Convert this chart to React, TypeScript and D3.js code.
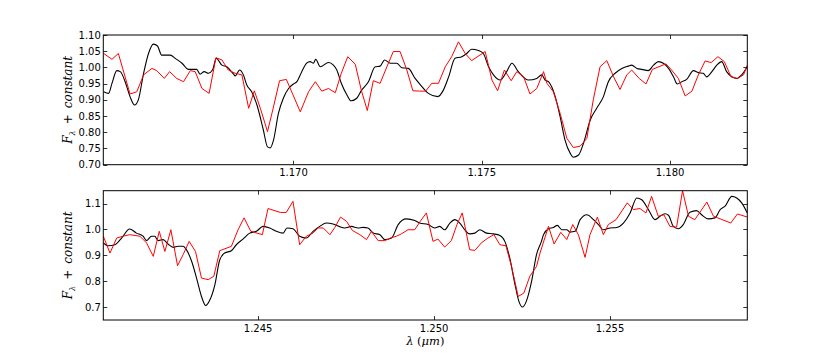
import { useEffect, useRef } from 'react';
import * as d3 from 'd3';

// top panel: 1.165 - 1.182 um
const topModel: [number, number][] = [
  [1.16496, 0.925], [1.16509, 0.92], [1.16518, 0.951], [1.16531, 0.99], [1.1654, 0.987],
  [1.16553, 0.956], [1.16566, 0.91], [1.16578, 0.884], [1.16588, 0.9], [1.16602, 0.982],
  [1.16615, 1.043], [1.16628, 1.072], [1.16639, 1.066], [1.1665, 1.038], [1.16673, 1.038],
  [1.16686, 1.028], [1.16704, 1.013], [1.16721, 0.994], [1.16743, 0.994], [1.16752, 0.979],
  [1.16763, 0.987], [1.16774, 0.982], [1.16785, 0.992], [1.16795, 1.028], [1.1681, 1.007],
  [1.16823, 1.002], [1.16841, 0.979], [1.16845, 0.974], [1.16857, 0.992], [1.16867, 0.977],
  [1.16876, 0.946], [1.16889, 0.925], [1.16903, 0.884], [1.1692, 0.807], [1.16931, 0.755],
  [1.16938, 0.752], [1.16947, 0.776], [1.1696, 0.858], [1.16973, 0.905], [1.16987, 0.935],
  [1.17, 0.949], [1.17009, 0.956], [1.17022, 0.987], [1.17035, 1.013], [1.17044, 1.018],
  [1.17053, 1.013], [1.17059, 1.025], [1.17071, 1.002], [1.17093, 1.015], [1.17106, 1.007],
  [1.17115, 0.992], [1.17127, 0.951], [1.17142, 0.915], [1.17153, 0.897], [1.17168, 0.905],
  [1.17181, 0.93], [1.17199, 0.956], [1.17217, 1.002], [1.1723, 1.004], [1.17242, 1.023],
  [1.17257, 1.013], [1.17274, 1.013], [1.17288, 0.999], [1.17305, 0.997], [1.17323, 0.966],
  [1.17341, 0.941], [1.17358, 0.92], [1.17383, 0.91], [1.17398, 0.93], [1.17412, 0.971],
  [1.17429, 1.028], [1.17447, 1.033], [1.1746, 1.043], [1.17473, 1.056], [1.17491, 1.052],
  [1.17504, 1.043], [1.17518, 1.002], [1.17531, 0.977], [1.17549, 0.961], [1.17566, 0.987],
  [1.1758, 1.013], [1.17597, 0.987], [1.17624, 0.961], [1.17646, 0.966], [1.17659, 0.977],
  [1.17668, 0.961], [1.17677, 0.956], [1.17695, 0.91], [1.17708, 0.848], [1.17721, 0.776],
  [1.17735, 0.735], [1.17743, 0.723], [1.17757, 0.73], [1.1777, 0.766], [1.17788, 0.838],
  [1.17805, 0.874], [1.17823, 0.91], [1.17836, 0.956], [1.17854, 0.982], [1.17872, 0.997],
  [1.17889, 1.004], [1.17898, 1.007], [1.17912, 0.997], [1.17925, 0.994], [1.17942, 0.99],
  [1.17956, 1.007], [1.17969, 1.018], [1.17982, 1.013], [1.17996, 0.997], [1.18009, 0.971],
  [1.18019, 0.949], [1.18031, 0.956], [1.18044, 0.963], [1.18062, 0.99], [1.18075, 0.984],
  [1.18088, 0.982], [1.18097, 0.971], [1.18111, 0.987], [1.18124, 1.007], [1.18137, 1.018],
  [1.1815, 0.987], [1.18164, 0.971], [1.18177, 0.966], [1.1819, 0.977], [1.18205, 1.002],
];

const topObs: [number, number][] = [
  [1.16496, 1.043], [1.16518, 1.025], [1.16535, 1.043], [1.16566, 0.918], [1.16584, 0.925],
  [1.16602, 0.977], [1.16624, 0.997], [1.16637, 0.99], [1.16657, 0.966], [1.16671, 0.987],
  [1.1669, 0.966], [1.16708, 0.956], [1.16726, 0.99], [1.16739, 0.987], [1.16757, 0.935],
  [1.16776, 0.92], [1.16794, 1.03], [1.1681, 1.023], [1.16827, 0.992], [1.16845, 0.982],
  [1.16863, 0.977], [1.16881, 0.874], [1.16896, 0.928], [1.16912, 0.874], [1.16931, 0.802],
  [1.16945, 0.869], [1.16963, 0.959], [1.16981, 0.963], [1.17, 0.912], [1.17018, 0.863],
  [1.1704, 0.925], [1.17058, 0.956], [1.17075, 0.927], [1.17093, 0.935], [1.17111, 0.922],
  [1.17127, 0.982], [1.17144, 1.033], [1.17164, 1.01], [1.1718, 0.93], [1.17196, 0.867],
  [1.17212, 0.959], [1.1723, 0.951], [1.17248, 1.002], [1.17265, 1.049], [1.17283, 1.049],
  [1.17301, 0.992], [1.17317, 0.928], [1.17335, 0.927], [1.17351, 0.927], [1.17367, 0.951],
  [1.17385, 0.951], [1.17403, 1.002], [1.1742, 1.033], [1.17438, 1.079], [1.17456, 1.043],
  [1.17473, 1.021], [1.17509, 1.049], [1.17527, 0.961], [1.17542, 0.928], [1.1756, 0.992],
  [1.17578, 0.959], [1.17593, 0.987], [1.17611, 0.971], [1.17628, 0.918], [1.17646, 0.935],
  [1.17664, 0.987], [1.17673, 0.951], [1.1769, 0.925], [1.17708, 0.858], [1.17726, 0.781],
  [1.17743, 0.753], [1.17761, 0.757], [1.17779, 0.781], [1.17796, 0.9], [1.17814, 1.002],
  [1.17832, 1.021], [1.1785, 0.971], [1.17867, 0.932], [1.17885, 0.977], [1.17898, 0.992],
  [1.17918, 0.966], [1.17936, 0.949], [1.17953, 0.994], [1.17989, 1.011], [1.18004, 0.992],
  [1.18022, 0.966], [1.1804, 0.912], [1.18058, 0.927], [1.18075, 0.977], [1.18093, 1.02],
  [1.18109, 1.015], [1.18127, 1.033], [1.18144, 1.018], [1.18162, 0.971], [1.18179, 0.966],
  [1.18195, 0.977], [1.18205, 1.007],
];

// bottom panel: 1.2406 - 1.2589 um
const bottomModel: [number, number][] = [
  [1.2406, 0.948], [1.24074, 0.937], [1.24093, 0.941], [1.24112, 0.967], [1.24135, 1.002],
  [1.24154, 0.986], [1.24173, 0.974], [1.24183, 0.957], [1.24197, 0.974], [1.24206, 0.974],
  [1.24216, 0.957], [1.2423, 0.961], [1.24244, 0.944], [1.24259, 0.931], [1.24273, 0.935],
  [1.24287, 0.935], [1.24296, 0.922], [1.24311, 0.877], [1.24325, 0.812], [1.24339, 0.741],
  [1.24351, 0.706], [1.24363, 0.728], [1.24377, 0.786], [1.24391, 0.883], [1.24405, 0.909],
  [1.24424, 0.918], [1.24438, 0.941], [1.24457, 0.963], [1.24476, 0.986], [1.24495, 0.993],
  [1.24514, 1.012], [1.24533, 1.006], [1.24552, 0.993], [1.24571, 0.986], [1.24582, 1.006],
  [1.24599, 1.003], [1.24618, 0.974], [1.24637, 0.967], [1.24656, 0.993], [1.24675, 1.012],
  [1.24694, 1.025], [1.24713, 1.021], [1.2473, 1.012], [1.24746, 1.006], [1.24765, 1.012],
  [1.24784, 1.006], [1.24798, 1.008], [1.24812, 1.006], [1.24827, 0.986], [1.24846, 0.98],
  [1.2486, 0.961], [1.24879, 0.967], [1.24898, 1.019], [1.24921, 1.041], [1.24945, 1.035],
  [1.24959, 1.025], [1.24983, 1.019], [1.25002, 1.006], [1.25016, 1.012], [1.2503, 0.999],
  [1.25045, 1.025], [1.25059, 1.038], [1.25073, 1.025], [1.25087, 0.999], [1.25101, 0.983],
  [1.25116, 0.986], [1.2513, 0.999], [1.25149, 0.986], [1.25168, 0.983], [1.25187, 0.977],
  [1.25201, 0.954], [1.25215, 0.89], [1.25229, 0.793], [1.25241, 0.722], [1.25251, 0.7],
  [1.25262, 0.722], [1.25277, 0.799], [1.25291, 0.903], [1.25305, 0.954], [1.25311, 0.98],
  [1.25325, 1.003], [1.25339, 1.008], [1.2535, 1.016], [1.25363, 0.999], [1.25377, 0.999],
  [1.25386, 0.99], [1.25401, 0.993], [1.25415, 1.038], [1.25434, 1.057], [1.25453, 1.038],
  [1.25467, 1.019], [1.25481, 0.999], [1.255, 1.006], [1.25519, 1.008], [1.25538, 1.025],
  [1.25557, 1.064], [1.25576, 1.122], [1.2559, 1.115], [1.25609, 1.077], [1.25628, 1.038],
  [1.25642, 1.051], [1.25656, 1.061], [1.25666, 1.055], [1.2568, 1.012], [1.25694, 1.003],
  [1.25708, 1.019], [1.25727, 1.067], [1.25746, 1.073], [1.2576, 1.057], [1.25779, 1.041],
  [1.25798, 1.045], [1.25813, 1.077], [1.25827, 1.09], [1.25846, 1.128], [1.2586, 1.122],
  [1.25874, 1.103], [1.2589, 1.064],
];

const bottomObs: [number, number][] = [
  [1.2406, 0.974], [1.24079, 0.909], [1.24098, 0.967], [1.24116, 0.974], [1.24135, 0.98],
  [1.24164, 0.974], [1.24183, 0.948], [1.24202, 0.896], [1.24219, 0.993], [1.24235, 0.915],
  [1.24252, 0.999], [1.24271, 0.86], [1.24287, 0.903], [1.24304, 0.954], [1.24322, 0.915],
  [1.24339, 0.812], [1.24358, 0.806], [1.24374, 0.819], [1.24391, 0.918], [1.24424, 0.935],
  [1.24443, 0.999], [1.2446, 1.045], [1.24479, 0.993], [1.24512, 0.98], [1.24528, 1.081],
  [1.24563, 1.066], [1.2458, 1.066], [1.24599, 1.109], [1.24618, 0.941], [1.24637, 0.974],
  [1.24656, 0.986], [1.2467, 1.006], [1.24685, 1.006], [1.24704, 0.98], [1.24718, 1.008],
  [1.24734, 1.048], [1.24751, 1.032], [1.24768, 0.996], [1.24789, 0.98], [1.24808, 0.961],
  [1.24822, 0.993], [1.24841, 0.957], [1.2486, 0.957], [1.24876, 0.967], [1.24893, 0.974],
  [1.24907, 0.983], [1.24926, 0.999], [1.24945, 0.999], [1.24961, 1.032], [1.24978, 1.064],
  [1.24997, 0.954], [1.25011, 0.963], [1.2503, 0.932], [1.25049, 0.957], [1.25065, 1.019],
  [1.2508, 1.064], [1.25101, 0.922], [1.25116, 0.919], [1.25134, 0.948], [1.25153, 0.967],
  [1.2517, 0.98], [1.25187, 0.941], [1.25204, 0.937], [1.2522, 0.857], [1.25239, 0.741],
  [1.25255, 0.754], [1.25272, 0.819], [1.25291, 0.857], [1.25301, 0.909], [1.25325, 1.012],
  [1.25341, 0.944], [1.2536, 0.989], [1.25377, 0.961], [1.25394, 1.019], [1.2541, 0.98],
  [1.25429, 0.892], [1.25443, 0.98], [1.25464, 1.048], [1.25481, 0.98], [1.25495, 1.019],
  [1.25517, 1.038], [1.25549, 1.103], [1.25566, 1.077], [1.25585, 1.081], [1.25602, 1.064],
  [1.25618, 1.128], [1.25637, 1.051], [1.25653, 1.057], [1.2567, 1.012], [1.25689, 1.009],
  [1.25706, 1.15], [1.25723, 1.051], [1.25741, 1.038], [1.25775, 1.106], [1.25794, 1.051],
  [1.25813, 1.041], [1.25843, 1.025], [1.25862, 1.06], [1.2589, 1.048],
];

const topXTicks = [1.17, 1.175, 1.18];
const topYTicks = [0.7, 0.75, 0.8, 0.85, 0.9, 0.95, 1.0, 1.05, 1.1];
const bottomXTicks = [1.245, 1.25, 1.255];
const bottomYTicks = [0.7, 0.8, 0.9, 1.0, 1.1];

const W = 830;
const H = 356;
const left = 103.3;
const right = 747.3;

const panels = [
  {
    id: 'top', model: topModel, obs: topObs, xDomain: [1.16495, 1.18205], yDomain: [0.7, 1.1],
    top: 35, bottom: 164.7, xTicks: topXTicks, yTicks: topYTicks, yFmt: '.2f',
  },
  {
    id: 'bot', model: bottomModel, obs: bottomObs, xDomain: [1.2406, 1.2589], yDomain: [0.65, 1.15],
    top: 190.7, bottom: 320, xTicks: bottomXTicks, yTicks: bottomYTicks, yFmt: '.1f',
  },
];

const App = () => {
  const svgRef = useRef<SVGSVGElement | null>(null);

  useEffect(() => {
    const svg = d3.select(svgRef.current);
    svg.selectAll('*').remove();
    svg.attr('width', W).attr('height', H);
    svg.append('rect').attr('width', W).attr('height', H).attr('fill', 'white');

    panels.forEach(p => {
      const x = d3.scaleLinear().domain(p.xDomain).range([left, right]);
      const y = d3.scaleLinear().domain(p.yDomain).range([p.bottom, p.top]);

      svg.append('clipPath').attr('id', 'clip-' + p.id)
        .append('rect')
        .attr('x', left).attr('y', p.top)
        .attr('width', right - left).attr('height', p.bottom - p.top);

      // model spectrum is smooth, observed one is drawn straight
      const smooth = d3.line<[number, number]>()
        .x(d => x(d[0]))
        .y(d => y(d[1]))
        .curve(d3.curveMonotoneX);
      const line = d3.line<[number, number]>()
        .x(d => x(d[0]))
        .y(d => y(d[1]));

      const g = svg.append('g').attr('clip-path', `url(#clip-${p.id})`);
      g.append('path')
        .datum(p.model)
        .attr('d', smooth)
        .attr('fill', 'none')
        .attr('stroke', 'black')
        .attr('stroke-width', 1.1)
        .attr('stroke-linejoin', 'round');
      g.append('path')
        .datum(p.obs)
        .attr('d', line)
        .attr('fill', 'none')
        .attr('stroke', '#ff0000')
        .attr('stroke-width', 1)
        .attr('stroke-linejoin', 'round');

      // ticks inside on all four sides
      const tk = svg.append('g').attr('stroke', 'black').attr('stroke-width', 0.8);
      p.xTicks.forEach(t => {
        const xx = Math.round(x(t)) + 0.5;
        tk.append('line').attr('x1', xx).attr('x2', xx).attr('y1', p.bottom).attr('y2', p.bottom - 4);
        tk.append('line').attr('x1', xx).attr('x2', xx).attr('y1', p.top).attr('y2', p.top + 4);
      });
      p.yTicks.forEach(t => {
        const yy = Math.round(y(t)) + 0.5;
        tk.append('line').attr('x1', left).attr('x2', left + 4).attr('y1', yy).attr('y2', yy);
        tk.append('line').attr('x1', right).attr('x2', right - 4).attr('y1', yy).attr('y2', yy);
      });

      svg.append('rect')
        .attr('x', left).attr('y', p.top)
        .attr('width', right - left).attr('height', p.bottom - p.top)
        .attr('fill', 'none').attr('stroke', 'black').attr('stroke-width', 1);

      const fy = d3.format(p.yFmt);
      svg.append('g')
        .attr('font-family', '"DejaVu Sans", sans-serif')
        .attr('font-size', 10)
        .attr('text-anchor', 'end')
        .selectAll('text')
        .data(p.yTicks)
        .enter().append('text')
        .attr('x', left - 2.5)
        .attr('y', d => y(d))
        .attr('dy', '0.36em')
        .text(d => fy(d));

      svg.append('g')
        .attr('font-family', '"DejaVu Sans", sans-serif')
        .attr('font-size', 10)
        .attr('text-anchor', 'middle')
        .selectAll('text')
        .data(p.xTicks)
        .enter().append('text')
        .attr('x', d => x(d))
        .attr('y', p.bottom + 11.5)
        .text(d => d3.format('.3f')(d));

      // y label
      const cy = (p.top + p.bottom) / 2;
      const yl = svg.append('text')
        .attr('transform', `translate(72,${cy}) rotate(-90)`)
        .attr('text-anchor', 'middle')
        .attr('font-family', '"DejaVu Serif", serif')
        .attr('font-size', 12);
      yl.append('tspan').attr('font-style', 'italic').text('F');
      yl.append('tspan').attr('font-style', 'italic').attr('font-size', 8).attr('dy', 3).text('λ');
      yl.append('tspan').attr('dy', -3).text('\u2002+\u2002');
      yl.append('tspan').attr('font-style', 'italic').text('constant');
    });

    const xl = svg.append('text')
      .attr('x', (left + right) / 2)
      .attr('y', 344.5)
      .attr('text-anchor', 'middle')
      .attr('font-family', '"DejaVu Serif", serif')
      .attr('font-size', 11.5);
    xl.append('tspan').attr('font-style', 'italic').text('λ');
    xl.append('tspan').text(' (');
    xl.append('tspan').attr('font-style', 'italic').text('μm');
    xl.append('tspan').text(')');
  }, []);

  return (
    <div style={{ position: 'absolute', left: 0, top: 0 }}>
      <svg ref={svgRef} style={{ display: 'block' }}></svg>
    </div>
  );
};

export default App;
